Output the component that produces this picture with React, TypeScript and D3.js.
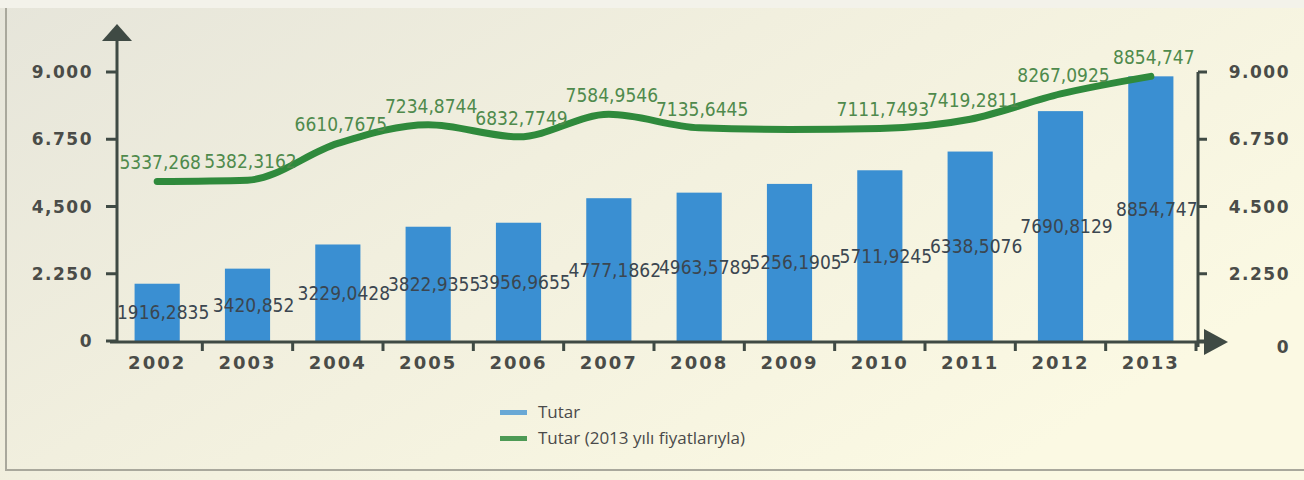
import { useEffect, useRef } from 'react';
import * as d3 from 'd3';

const WIDTH = 1304;
const HEIGHT = 480;

// Yıllar
const years = ['2002', '2003', '2004', '2005', '2006', '2007', '2008', '2009', '2010', '2011', '2012', '2013'];

// Tutar (bar heights as drawn)
const tutar = [1916.2835, 2420.852, 3229.0428, 3822.9355, 3956.9655, 4777.1862, 4963.5789, 5256.1905, 5711.9245, 6338.5076, 7690.8129, 8854.747];
const tutarLabels = ['1916,2835', '3420,852', '3229,0428', '3822,9355', '3956,9655', '4777,1862', '4963,5789', '5256,1905', '5711,9245', '6338,5076', '7690,8129', '8854,747'];

// Tutar (2013 yılı fiyatlarıyla) — 2009 has no printed label
const tutar2013 = [5337.268, 5382.3162, 6610.7675, 7234.8744, 6832.7749, 7584.9546, 7135.6445, 7080, 7111.7493, 7419.2811, 8267.0925, 8854.747];
const tutar2013Labels = ['5337,268', '5382,3162', '6610,7675', '7234,8744', '6832,7749', '7584,9546', '7135,6445', '', '7111,7493', '7419,2811', '8267,0925', '8854,747'];

const leftTicks = [0, 2250, 4500, 6750, 9000];
const leftTickLabels = ['0', '2.250', '4,500', '6.750', '9.000'];
const rightTickLabels = ['0', '2.250', '4.500', '6.750', '9.000'];

const legendItems = ['Tutar', 'Tutar (2013 yılı fiyatlarıyla)'];

const BLUE = '#3a8fd2';
const GREEN = '#2f8a3c';
const AXIS = '#3f4a44';

export default function App() {
  const svgRef = useRef<SVGSVGElement>(null);

  useEffect(() => {
    if (!svgRef.current) return;
    const svg = d3.select(svgRef.current);
    svg.selectAll('*').remove();

    // Arka plan
    const defs = svg.append('defs');
    const grad = defs.append('linearGradient').attr('id', 'bg').attr('x1', '0').attr('y1', '0').attr('x2', '1').attr('y2', '0.6');
    grad.append('stop').attr('offset', '0%').attr('stop-color', '#e6e5da');
    grad.append('stop').attr('offset', '45%').attr('stop-color', '#f1efde');
    grad.append('stop').attr('offset', '100%').attr('stop-color', '#fbf9e3');
    svg.append('rect').attr('width', WIDTH).attr('height', HEIGHT).attr('fill', 'url(#bg)');
    svg.append('rect').attr('x', 0).attr('y', 0).attr('width', WIDTH).attr('height', 8).attr('fill', '#f3f2ea');
    svg.append('path')
      .attr('d', `M6,8 V470 H${WIDTH}`)
      .attr('fill', 'none')
      .attr('stroke', '#a9a89c')
      .attr('stroke-width', 2);

    const x = d3.scaleBand().domain(years).range([112, 1196]).paddingInner(0.5).paddingOuter(0.25);
    const y = d3.scaleLinear().domain([0, 9000]).range([341, 72]);
    const step = x.step();
    const cx = (d: string) => x(d)! + x.bandwidth() / 2;

    const g = svg.append('g');

    // Sol eksen
    g.append('line').attr('x1', 117).attr('x2', 117).attr('y1', 40).attr('y2', y(0) + 2)
      .attr('stroke', AXIS).attr('stroke-width', 3);
    g.append('path').attr('d', 'M102,41 L117,24 L132,41 Z').attr('fill', AXIS);
    g.selectAll('.ltick').data(leftTicks).join('line')
      .attr('x1', 106).attr('x2', 117)
      .attr('y1', d => y(d)).attr('y2', d => y(d))
      .attr('stroke', AXIS).attr('stroke-width', 3);
    g.selectAll('.llabel').data(leftTicks).join('text')
      .attr('x', 93).attr('y', d => y(d)).attr('dy', '0.36em')
      .attr('text-anchor', 'end')
      .style('font-family', 'DejaVu Sans').style('font-weight', 'bold')
      .style('font-size', '17px').style('letter-spacing', '1.5px')
      .style('fill', '#4a4c48')
      .text((_, i) => leftTickLabels[i]);

    // Sağ eksen
    const rx = 1198;
    g.append('line').attr('x1', rx).attr('x2', rx).attr('y1', y(9000)).attr('y2', y(0) + 6)
      .attr('stroke', AXIS).attr('stroke-width', 3);
    g.selectAll('.rtick').data(leftTicks).join('line')
      .attr('x1', rx).attr('x2', rx + 9)
      .attr('y1', d => y(d)).attr('y2', d => y(d))
      .attr('stroke', AXIS).attr('stroke-width', 3);
    g.selectAll('.rlabel').data(leftTicks).join('text')
      .attr('x', 1290).attr('y', d => y(d) + (d === 0 ? 6 : 0)).attr('dy', '0.36em')
      .attr('text-anchor', 'end')
      .style('font-family', 'DejaVu Sans').style('font-weight', 'bold')
      .style('font-size', '17px').style('letter-spacing', '1.5px')
      .style('fill', '#4a4c48')
      .text((_, i) => rightTickLabels[i]);

    // Çubuklar
    g.selectAll('.bar').data(years).join('rect')
      .attr('x', d => x(d)!)
      .attr('y', (_, i) => y(tutar[i]))
      .attr('width', x.bandwidth())
      .attr('height', (_, i) => y(0) - y(tutar[i]))
      .attr('fill', BLUE);

    // X ekseni
    g.append('line').attr('x1', 110).attr('x2', 1206).attr('y1', y(0) + 1).attr('y2', y(0) + 1)
      .attr('stroke', AXIS).attr('stroke-width', 3);
    g.append('path')
      .attr('d', `M1204,${y(0) - 12} L1228,${y(0) + 1} L1204,${y(0) + 14} Z`)
      .attr('fill', AXIS);
    g.selectAll('.xtick').data(years).join('line')
      .attr('x1', d => x(d)! + x.bandwidth() + (step - x.bandwidth()) / 2)
      .attr('x2', d => x(d)! + x.bandwidth() + (step - x.bandwidth()) / 2)
      .attr('y1', y(0)).attr('y2', y(0) + 10)
      .attr('stroke', AXIS).attr('stroke-width', 3);
    g.selectAll('.xlabel').data(years).join('text')
      .attr('x', d => cx(d)).attr('y', y(0) + 28)
      .attr('text-anchor', 'middle')
      .style('font-family', 'DejaVu Sans').style('font-weight', 'bold')
      .style('font-size', '18px').style('letter-spacing', '2px')
      .style('fill', '#4a4c48')
      .text(d => d);

    // Çizgi
    const line = d3.line<number>()
      .x((_, i) => cx(years[i]))
      .y(d => y(d))
      .curve(d3.curveMonotoneX);
    g.append('path').datum(tutar2013)
      .attr('d', line)
      .attr('fill', 'none')
      .attr('stroke', GREEN)
      .attr('stroke-width', 7)
      .attr('stroke-linecap', 'round');

    // Çizgi etiketleri
    g.selectAll('.llbl').data(tutar2013).join('text')
      .attr('x', (_, i) => cx(years[i]) + 3)
      .attr('y', d => y(d) - 12)
      .attr('text-anchor', 'middle')
      .style('font-family', 'DejaVu Sans Condensed').style('font-size', '19px')
      .style('fill', '#4f8a4c')
      .text((_, i) => tutar2013Labels[i]);

    // Çubuk etiketleri
    g.selectAll('.blbl').data(tutar).join('text')
      .attr('x', (_, i) => cx(years[i]) + 6)
      .attr('y', d => y(d / 2) + 7)
      .attr('text-anchor', 'middle')
      .style('font-family', 'DejaVu Sans Condensed').style('font-size', '19px')
      .style('fill', '#3b4650')
      .text((_, i) => tutarLabels[i]);

    // Lejant
    const legendColors = [BLUE, GREEN];
    const lg = svg.append('g').attr('transform', 'translate(500, 412)');
    legendItems.forEach((label, i) => {
      lg.append('rect').attr('x', 0).attr('y', i * 26 - 2).attr('width', 27).attr('height', 5)
        .attr('fill', legendColors[i]).attr('opacity', i === 0 ? 0.75 : 0.85);
      lg.append('text').attr('x', 38).attr('y', i * 26).attr('dy', '0.35em')
        .style('font-family', 'Open Sans').style('font-size', '17px')
        .style('fill', '#4a4a4a')
        .text(label);
    });
  }, []);

  return (
    <svg
      ref={svgRef}
      width={WIDTH}
      height={HEIGHT}
      style={{ position: 'absolute', left: 0, top: 0, display: 'block' }}
    />
  );
}
